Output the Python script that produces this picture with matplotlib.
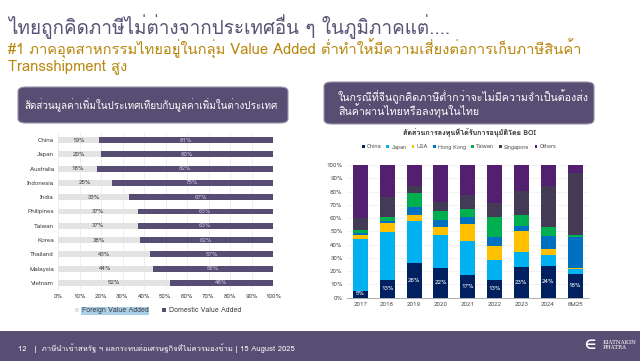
import matplotlib
matplotlib.use("Agg")
import matplotlib.pyplot as plt
from matplotlib import font_manager
from matplotlib.patches import FancyBboxPatch, Rectangle
import numpy as np

# ---------- font detection (Thai) ----------
def find_thai_fonts():
    names = []
    try:
        from fontTools.ttLib import TTFont
    except Exception:
        return names
    for f in font_manager.fontManager.ttflist:
        try:
            tt = TTFont(f.fname, fontNumber=0, lazy=True)
            cmap = tt.getBestCmap()
            if cmap and 0x0E44 in cmap and 0x0E01 in cmap:
                if f.name not in names:
                    names.append(f.name)
        except Exception:
            pass
    return names

thai = find_thai_fonts()
FAM = thai[:1] + ["Noto Sans", "DejaVu Sans"]
plt.rcParams['font.family'] = FAM

# ---------- data ----------
countries = ["China", "Japan", "Australia", "Indonesia", "India", "Philipines",
             "Taiwan", "Korea", "Thailand", "Malaysia", "Vietnam"]
foreign_va = [19, 20, 18, 25, 33, 37, 37, 38, 43, 44, 52]
domestic_va = [81, 80, 82, 75, 67, 63, 63, 62, 57, 56, 48]

years = ["2017", "2018", "2019", "2020", "2021", "2022", "2023", "2024", "6M25"]
boi_china = [5, 13, 26, 22, 17, 13, 23, 24, 18]
boi_japan = [39.5, 36.5, 31.5, 25.5, 26, 15.5, 11, 8, 3.5]
boi_usa = [2.5, 7, 5, 5.5, 12.5, 10.5, 16.5, 4.5, 1]
boi_hk = [1.5, 1.25, 6, 5.5, 5, 7, 3.5, 10, 23]
boi_taiwan = [2.5, 2.75, 10, 6.5, 6.5, 15, 8.5, 7, 2]
boi_singapore = [9, 15, 5.5, 7, 10, 10.5, 18, 31, 46.5]
boi_others = [40, 24.5, 16, 28, 23, 28.5, 19.5, 15.5, 6]

W, H = 640, 361
fig = plt.figure(figsize=(6.4, 3.61), dpi=100)

def fx(px):
    return px / W

def fy(py):
    return 1 - py / H

PURPLE = "#584D72"
GOLD = "#B8860B"

# ---------- titles ----------
fig.text(fx(8), fy(27), "ไทยถูกคิดภาษีไม่ต่างจากประเทศอื่น ๆ ในภูมิภาคแต่....",
         fontsize=13.6, color="#5A5275", va="center", ha="left")
fig.text(fx(8), fy(49), "#1 ภาคอุตสาหกรรมไทยอยู่ในกลุ่ม Value Added ต่ำทำให้มีความเสี่ยงต่อการเก็บภาษีสินค้า",
         fontsize=10.6, color=GOLD, va="center", ha="left")
fig.text(fx(8), fy(67), "Transshipment สูง",
         fontsize=10.6, color=GOLD, va="center", ha="left")

# ---------- header boxes ----------
def header_box(x0, y0, x1, y1):
    p = FancyBboxPatch((fx(x0), fy(y1)), fx(x1 - x0), (y1 - y0) / H,
                       boxstyle="round,pad=0,rounding_size=0.012",
                       transform=fig.transFigure, facecolor=PURPLE,
                       edgecolor="#9A94AE", linewidth=0.8, zorder=1)
    fig.patches.append(p)

header_box(18, 87, 288, 123)
fig.text(fx(24), fy(105), "สัดส่วนมูลค่าเพิ่มในประเทศเทียบกับมูลค่าเพิ่มในต่างประเทศ",
         fontsize=7.1, color="white", va="center", ha="left")
header_box(324, 82, 594, 124)
fig.text(fx(338), fy(97), "ในกรณีที่จีนถูกคิดภาษีต่ำกว่าจะไม่มีความจำเป็นต้องส่ง",
         fontsize=7.7, color="white", va="center", ha="left")
fig.text(fx(338), fy(111), "สินค้าผ่านไทยหรือลงทุนในไทย",
         fontsize=7.7, color="white", va="center", ha="left")

# ---------- left chart ----------
axL = fig.add_axes([fx(58), fy(290), fx(273 - 58), (290 - 133) / H])
y = np.arange(len(countries))
bf = axL.barh(y, foreign_va, height=0.42, color="#E3E3E3", label="Foreign Value Added", zorder=2)
bd = axL.barh(y, domestic_va, left=foreign_va, height=0.42, color="#574C73",
              label="Domestic Value Added", zorder=2)
for i in range(len(countries)):
    axL.text(foreign_va[i] / 2, y[i], f"{foreign_va[i]}%", ha="center", va="center",
             fontsize=4.5, color="#404040", zorder=3)
    axL.text(foreign_va[i] + domestic_va[i] / 2, y[i], f"{domestic_va[i]}%", ha="center",
             va="center", fontsize=4.5, color="#C8C0DC", zorder=3)
axL.set_xlim(0, 100)
axL.set_ylim(len(countries) - 0.5, -0.5)
axL.set_yticks(y)
axL.set_yticklabels(countries, fontsize=4.5, color="#404040")
axL.set_xticks(np.arange(0, 101, 10))
axL.set_xticklabels([f"{v}%" for v in range(0, 101, 10)], fontsize=4.5, color="#404040")
axL.tick_params(length=0, pad=3)
axL.grid(axis="x", color="#E8E8E8", linewidth=0.5, zorder=0)
for s in axL.spines.values():
    s.set_visible(False)
legL = fig.legend(handles=[bf, bd], loc="center", bbox_to_anchor=(fx(158), fy(311)),
                  ncol=2, frameon=False, fontsize=5, handlelength=0.6, handleheight=0.6,
                  columnspacing=2.0, handletextpad=0.4, labelcolor="#404040")
legL.get_texts()[0].set_bbox(dict(facecolor="#A9CFEA", edgecolor="none", pad=0.3))

# ---------- right chart ----------
fig.text(fx(469), fy(133), "สัดส่วนการลงทุนที่ได้รับการอนุมัติโดย BOI",
         fontsize=5.2, color="#303030", ha="center", va="center", fontweight="bold")
axR = fig.add_axes([fx(347), fy(297.5), fx(588.5 - 347), (297.5 - 165) / H])
x = np.arange(len(years))
series = [("China", boi_china, "#002060"), ("Japan", boi_japan, "#00B0F0"),
          ("USA", boi_usa, "#FFC000"), ("Hong Kong", boi_hk, "#0070C0"),
          ("Taiwan", boi_taiwan, "#00B050"), ("Singapore", boi_singapore, "#433A55"),
          ("Others", boi_others, "#52206E")]
bottom = np.zeros(len(years))
handles = []
for name, vals, col in series:
    b = axR.bar(x, vals, bottom=bottom, width=0.56, color=col, label=name, zorder=2)
    handles.append(b)
    bottom += np.array(vals)
for i, v in enumerate(boi_china):
    axR.text(x[i], v / 2 if v > 8 else v / 2 + 0.5, f"{v}%", ha="center", va="center",
             fontsize=4.5, color="white", zorder=3)
axR.set_xlim(-0.5, len(years) - 0.5)
axR.set_ylim(0, 100)
axR.set_yticks(np.arange(0, 101, 10))
axR.set_yticklabels([f"{v}%" for v in range(0, 101, 10)], fontsize=4.5, color="#505050")
axR.set_xticks(x)
axR.set_xticklabels(years, fontsize=4.5, color="#505050")
axR.tick_params(length=0, pad=3)
axR.grid(axis="y", color="#EEEEEE", linewidth=0.5, zorder=0)
for k, s in axR.spines.items():
    s.set_visible(k == "bottom")
axR.spines["bottom"].set_color("#A0A0A0")
axR.spines["bottom"].set_linewidth(0.6)
fig.legend(handles=handles, loc="center", bbox_to_anchor=(fx(459), fy(147)),
           ncol=7, frameon=False, fontsize=4.0, handlelength=0.5, handleheight=0.5,
           columnspacing=0.9, handletextpad=0.4, labelcolor="#505050")

# ---------- footer ----------
fig.patches.append(Rectangle((0, 0), 1, 30 / H, transform=fig.transFigure,
                             facecolor=PURPLE, edgecolor="none", zorder=0))
fig.text(fx(18), fy(348), "12   |  ภาษีนำเข้าสหรัฐ ฯ ผลกระทบต่อเศรษฐกิจที่ไม่ควรมองข้าม | 15 August 2025",
         fontsize=5.5, color="white", ha="left", va="center")
fig.text(fx(603), fy(345), "KIATNAKIN\nPHATRA", fontsize=4, color="white",
         ha="left", va="center", family="DejaVu Serif", linespacing=0.9)
fig.text(fx(590), fy(346), "∈", fontsize=9, color="white", ha="center", va="center",
         fontweight="bold")

fig.savefig("out.png", dpi=100)
